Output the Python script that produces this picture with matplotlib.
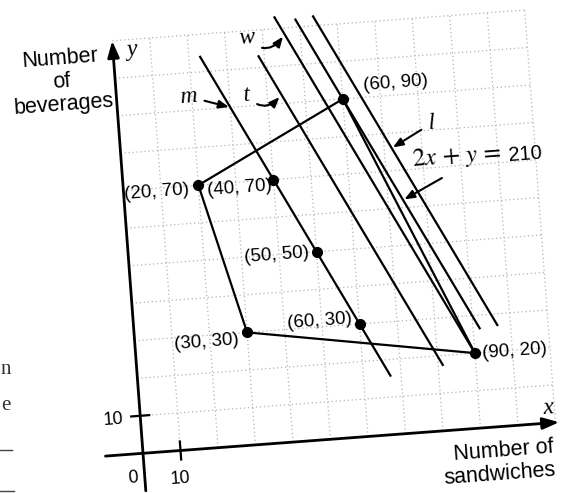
import numpy as np
import matplotlib
matplotlib.use('Agg')
import matplotlib.pyplot as plt
from matplotlib import font_manager
from matplotlib.transforms import Affine2D

plt.rcParams['mathtext.fontset'] = 'stix'

# corners of the feasible region (sandwiches, beverages)
region_x = [20, 60, 90, 30, 20]
region_y = [70, 90, 20, 30, 70]

# labelled points and where their labels sit (offset in data units)
pts_x = [20, 40, 60, 50, 60, 30, 90]
pts_y = [70, 70, 90, 50, 30, 30, 20]
pt_labels = ['(20, 70)', '(40, 70)', '(60, 90)', '(50, 50)', '(60, 30)', '(30, 30)', '(90, 20)']
lab_dx = [-11.2, -9.0, 14.2, -10.6, -10.4, -10.9, 10.7]
lab_dy = [-0.9, -1.6, 3.1, -0.1, 1.6, -1.7, -0.4]

# objective lines 2x + y = c, drawn between y_top and y_bot
line_c = [150, 180, 200, 210, 220]
line_ytop = [104, 103, 113, 112, 112.5]
line_ybot = [15.7, 17.5, 20, 26.5, 27]

grid_ticks = np.arange(10, 111, 10)

sans = ['Liberation Sans', 'DejaVu Sans']
serif = ['Liberation Serif', 'DejaVu Serif']
# the book uses a condensed sans for the point labels
installed = {f.name for f in font_manager.fontManager.ttflist}
if 'Liberation Sans Narrow' in installed:
    lab_family, lab_size = ['Liberation Sans Narrow', 'DejaVu Sans'], 15.5
else:
    lab_family, lab_size = sans, 13.5

fig = plt.figure(figsize=(5.67, 4.93), dpi=100)
ax = fig.add_axes([0, 0, 1, 1])
ax.set_xlim(0, 567)
ax.set_ylim(493, 0)
ax.axis('off')

# the page was scanned a little crooked: rotate + scale data into pixels
ang = 4.27
scan = Affine2D.from_values(3.75, -0.28, -0.28, -3.75, 143, 453.3)
tr = scan + ax.transData

# dotted grid
for g in grid_ticks:
    ax.plot([g, g], [0, 110], transform=tr, color='#b4b4b4', lw=0.9,
            linestyle=(0, (1, 2.2)), zorder=1)
    ax.plot([0, 110], [g, g], transform=tr, color='#b4b4b4', lw=0.9,
            linestyle=(0, (1, 2.2)), zorder=1)

# axes with arrows
arrow_kw = dict(arrowstyle='-|>,head_length=0.7,head_width=0.25', lw=2,
                color='black', shrinkA=0, shrinkB=0, mutation_scale=14)
ax.annotate('', xy=(0, 110), xytext=(0, -10), xycoords=tr, textcoords=tr,
            arrowprops=arrow_kw, zorder=3)
ax.annotate('', xy=(111, 0), xytext=(-10, 0), xycoords=tr, textcoords=tr,
            arrowprops=arrow_kw, zorder=3)
ax.plot([10, 10], [-2.4, 2.4], transform=tr, color='black', lw=1.6)
ax.plot([-2.4, 2.4], [10, 10], transform=tr, color='black', lw=1.6)

# feasible region and the parallel lines
ax.plot(region_x, region_y, transform=tr, color='black', lw=1.6, zorder=4)
for c, yt, yb in zip(line_c, line_ytop, line_ybot):
    ys = np.array([yt, yb])
    ax.plot((c - ys) / 2, ys, transform=tr, color='black', lw=1.6, zorder=4)

ax.plot(pts_x, pts_y, 'o', transform=tr, color='black', ms=7, zorder=5)
for x, y, s, dx, dy in zip(pts_x, pts_y, pt_labels, lab_dx, lab_dy):
    ax.text(x + dx, y + dy, s, transform=tr, rotation=ang, rotation_mode='anchor',
            ha='center', va='center', fontsize=lab_size, family=lab_family)

# axis titles and tick labels
txt = dict(transform=tr, rotation=ang, rotation_mode='anchor', ha='center', va='center')
ax.text(-14.1, 100.1, 'Number\nof\nbeverages', fontsize=15.5, family=sans,
        linespacing=1.15, **txt)
ax.text(94.2, -9.5, 'Number of\nsandwiches', fontsize=15.5, family=sans,
        linespacing=1.15, multialignment='right', **txt)
ax.text(5.3, 107.1, 'y', fontsize=17, family=serif, style='italic', **txt)
ax.text(108.4, 3.9, 'x', fontsize=17, family=serif, style='italic', **txt)
ax.text(-3.1, -6.4, '0', fontsize=13, family=sans, **txt)
ax.text(9.3, -7.6, '10', fontsize=13, family=sans, **txt)
ax.text(-7.2, 9.4, '10', fontsize=13, family=sans, **txt)

# line names with pointers
ann = dict(xycoords=tr, textcoords=tr, rotation=ang, rotation_mode='anchor',
           ha='center', va='center', fontsize=17, family=serif, style='italic')
straight = dict(arrowstyle='-|>,head_length=0.5,head_width=0.2', lw=1.5,
                color='black', shrinkA=3, shrinkB=1, mutation_scale=12)
hook = dict(straight, connectionstyle='arc3,rad=0.6')
ax.annotate('m', xy=(30, 90), xytext=(19.1, 93.7), arrowprops=straight, **ann)
ax.annotate('t', xy=(43.5, 92), xytext=(34.6, 93.0), arrowprops=hook, **ann)
ax.annotate('w', xy=(45.6, 108), xytext=(35.7, 108.0), arrowprops=hook, **ann)
ax.annotate('l', xy=(72, 76), xytext=(83.1, 81.8), arrowprops=straight, **ann)
ann['style'] = 'normal'
ann['fontsize'] = 18
ax.annotate(r'$2x\,+\,y\,=$', xy=(74, 62), xytext=(89.1, 72.4),
            arrowprops=dict(straight, relpos=(0.43, 0.0)), **ann)
ax.text(107.4, 71.8, '210', fontsize=14.5, family=sans, **txt)

# bits of the neighbouring page text caught by the scan
ax.text(1, 370, 'n', fontsize=15, family=serif, va='center', color='#333333')
ax.text(1, 405, 'e', fontsize=15, family=serif, va='center', color='#333333')
ax.plot([0, 12], [450, 450], color='#444444', lw=1)
ax.plot([0, 14], [491, 491], color='#444444', lw=1)

fig.savefig('out.png', dpi=100)
